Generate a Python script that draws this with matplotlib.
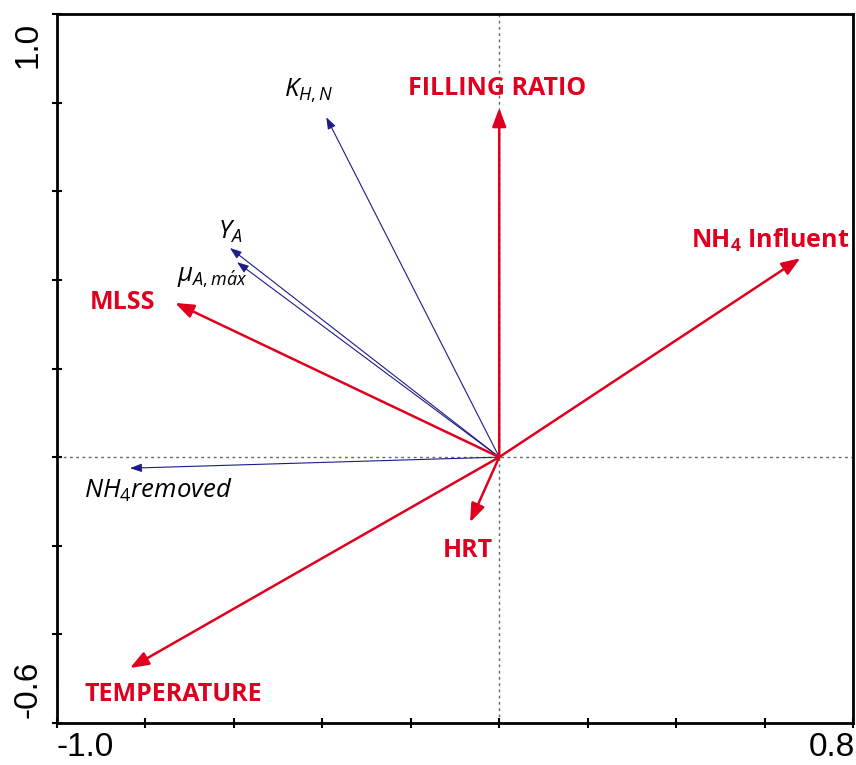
import matplotlib
matplotlib.use("Agg")
import matplotlib.pyplot as plt
import matplotlib.transforms as mtransforms
import numpy as np

plt.rcParams['mathtext.fontset'] = 'custom'
plt.rcParams['mathtext.it'] = 'Open Sans:italic'
plt.rcParams['mathtext.rm'] = 'Open Sans'
plt.rcParams['mathtext.bf'] = 'Open Sans:bold'

# environmental variables (red)
env_names = ['FILLING RATIO', r'$\mathbf{NH}_\mathbf{4}$' + ' Influent', 'MLSS', 'HRT', 'TEMPERATURE']
env_x = [0.0, 0.681, -0.733, -0.066, -0.835]
env_y = [0.788, 0.449, 0.348, -0.147, -0.476]
env_lab_x = [-0.005, 0.613, -0.851, -0.070, -0.738]
env_lab_y = [0.833, 0.490, 0.350, -0.210, -0.535]

# response variables (blue)
resp_names = [r'$K_{H,N}$', r'$Y_A$', r'$\mu_{A,m\acute{a}x}$', r'$NH_4$' + r'$removed$']
resp_x = [-0.391, -0.609, -0.593, -0.835]
resp_y = [0.767, 0.472, 0.440, -0.025]
resp_lab_x = [-0.430, -0.609, -0.649, -0.770]
resp_lab_y = [0.826, 0.508, 0.406, -0.074]

xticks = np.round(np.arange(-1.0, 0.81, 0.2), 1)
yticks = np.round(np.arange(-0.6, 1.01, 0.2), 1)
xlabels = ['-1.0', '', '', '', '', '', '', '', '', '0.8']
ylabels = ['-0.6', '', '', '', '', '', '', '', '1.0']

RED = '#DF0020'
BLUE = '#1C1C8A'

fig = plt.figure(figsize=(8.56, 7.65), dpi=100)
ax = fig.add_axes([57/856, 1-723/765, (853-57)/856, (723-14)/765])
ax.set_xlim(-1.0, 0.8)
ax.set_ylim(-0.6, 1.0)

ax.axhline(0, color='#666666', lw=1.0, ls=(0, (2, 2.5)), zorder=1)
ax.axvline(0, color='#666666', lw=1.0, ls=(0, (2, 2.5)), zorder=1)

for x, y in zip(resp_x, resp_y):
    ax.annotate('', xy=(x, y), xytext=(0, 0),
                arrowprops=dict(arrowstyle='-|>,head_length=0.5,head_width=0.18',
                                color=BLUE, lw=0.8, shrinkA=0, shrinkB=0,
                                mutation_scale=14), zorder=2)
for x, y in zip(env_x, env_y):
    ax.annotate('', xy=(x, y), xytext=(0, 0),
                arrowprops=dict(arrowstyle='-|>,head_length=0.8,head_width=0.3',
                                color=RED, lw=1.8, shrinkA=0, shrinkB=0,
                                mutation_scale=14), zorder=3)

for n, x, y in zip(env_names, env_lab_x, env_lab_y):
    ax.text(x, y, n, color=RED, fontsize=18, fontweight='bold', family='Open Sans',
            ha='center', va='center', zorder=4)
for n, x, y in zip(resp_names, resp_lab_x, resp_lab_y):
    ax.text(x, y, n, color='black', fontsize=18.5, ha='center', va='center', zorder=4)

# small red mark on left edge
ax.plot([-1.0], [-0.515], marker='s', ms=2, color='#F07070', mec='none', clip_on=False)

ax.set_xticks(xticks)
ax.set_xticklabels(xlabels)
ax.set_yticks(yticks)
ax.set_yticklabels(ylabels, rotation=90, va='center')
ax.tick_params(direction='inout', length=7, width=1.5, labelsize=24, pad=6)
ax.tick_params(axis='x', pad=3)
for lab in ax.get_xticklabels() + ax.get_yticklabels():
    lab.set_family('Liberation Sans')

xl = ax.get_xticklabels()
xl[0].set_ha('left')
xl[-1].set_ha('right')
xl[-1].set_transform(xl[-1].get_transform() + mtransforms.ScaledTranslation(2/100, 0, fig.dpi_scale_trans))
yl = ax.get_yticklabels()
yl[0].set_va('bottom')
yl[0].set_transform(yl[0].get_transform() + mtransforms.ScaledTranslation(0, 5/100, fig.dpi_scale_trans))
yl[-1].set_va('top')
yl[-1].set_transform(yl[-1].get_transform() + mtransforms.ScaledTranslation(0, -8/100, fig.dpi_scale_trans))

for s in ax.spines.values():
    s.set_linewidth(2)

fig.savefig('out.png', dpi=100)
